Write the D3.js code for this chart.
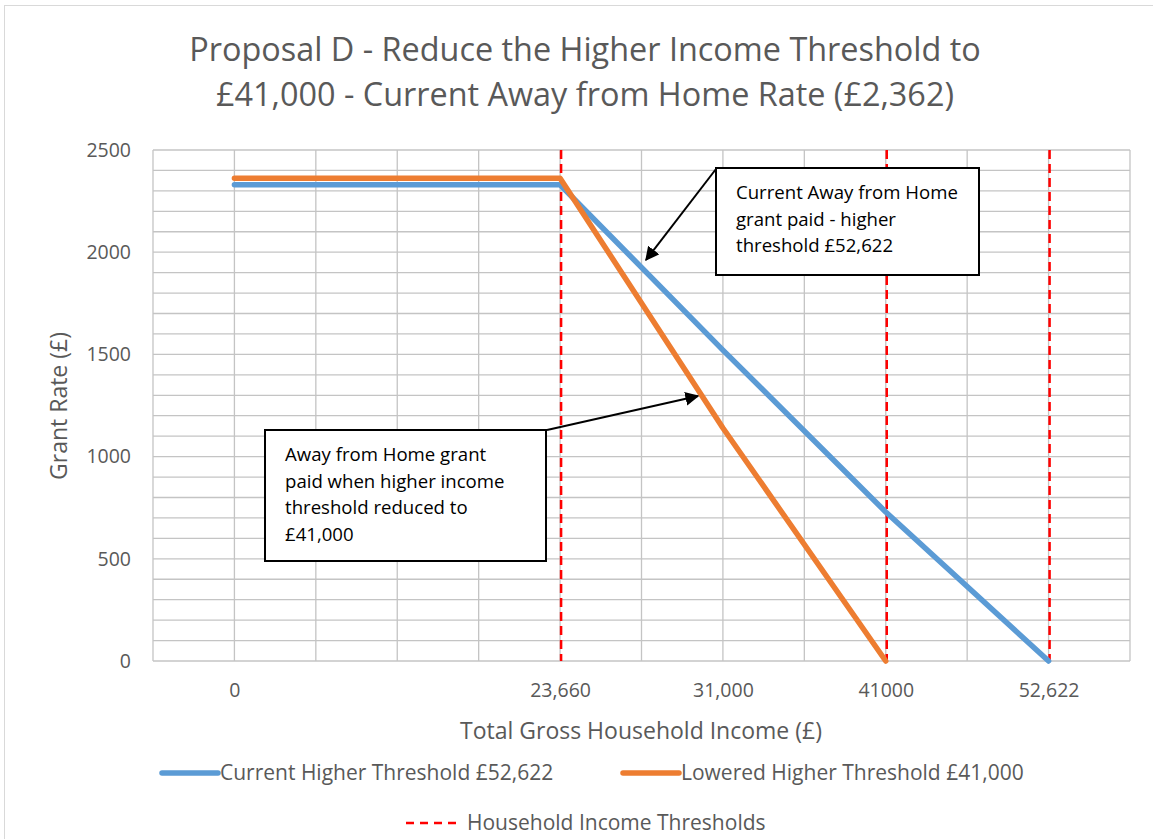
<!DOCTYPE html>
<html lang="en">
<head>
<meta charset="utf-8">
<title>Proposal D - Grant Rate chart</title>
<script src="https://cdn.jsdelivr.net/npm/d3@7"></script>
<style>
  body { margin: 0; background: #fff; }
  text { font-family: "Open Sans", "Noto Sans", sans-serif; }
</style>
</head>
<body>
<div id="chart"></div>
<script>
// category axis (Excel line chart) - the blank slot sits between 0 and 23,660
var categories = ["0", "", "23,660", "31,000", "41000", "52,622"];
var currentRate = [2330, 2330, 2330, 1521, 729, 0];       // higher threshold £52,622
var loweredRate = [2362, 2362, 2362, 1140, 0, null];      // higher threshold £41,000
var thresholds = ["23,660", "41000", "52,622"];
var yTicks = [0, 500, 1000, 1500, 2000, 2500];

var W = 1153, H = 839;
var plot = {left: 153, right: 1130, top: 150, bottom: 661};

var svg = d3.select("#chart").append("svg")
    .attr("width", W).attr("height", H);

// chart frame
svg.append("rect")
    .attr("x", 4.5).attr("y", 5.5)
    .attr("width", W + 10).attr("height", H + 10)
    .attr("fill", "none").attr("stroke", "#d9d9d9");

var x = d3.scalePoint()
    .domain(categories)
    .range([plot.left, plot.right])
    .padding(0.5);

var y = d3.scaleLinear()
    .domain([0, 2500])
    .range([plot.bottom, plot.top]);

// gridlines: horizontal every 100, vertical every half category
var grid = svg.append("g").attr("stroke", "#c4c4c4").attr("stroke-width", 1.3);
grid.selectAll("line.h")
    .data(d3.range(0, 2501, 100))
    .enter().append("line")
    .attr("x1", plot.left).attr("x2", plot.right)
    .attr("y1", function(d) { return y(d); })
    .attr("y2", function(d) { return y(d); });

var half = x.step() / 2;
grid.selectAll("line.v")
    .data(d3.range(0, categories.length * 2 + 1))
    .enter().append("line")
    .attr("x1", function(i) { return plot.left + i * half; })
    .attr("x2", function(i) { return plot.left + i * half; })
    .attr("y1", plot.top).attr("y2", plot.bottom);

// y axis labels
var yAxis = svg.append("g")
    .attr("transform", "translate(" + (plot.left - 22) + ",0)")
    .call(d3.axisLeft(y).tickValues(yTicks).tickFormat(d3.format("d"))
        .tickSize(0).tickPadding(0));
yAxis.select(".domain").remove();
yAxis.selectAll("text")
    .attr("font-size", 19.5).attr("fill", "#595959")
    .attr("font-family", "Open Sans");

// x axis labels
var xAxis = svg.append("g")
    .attr("transform", "translate(0," + (plot.bottom + 22) + ")")
    .call(d3.axisBottom(x).tickSize(0).tickPadding(0));
xAxis.select(".domain").remove();
xAxis.selectAll("text")
    .attr("font-size", 19.5).attr("fill", "#595959")
    .attr("font-family", "Open Sans");

// axis titles
svg.append("text")
    .attr("x", 641).attr("y", 739)
    .attr("text-anchor", "middle")
    .attr("font-size", 23).attr("fill", "#595959")
    .text("Total Gross Household Income (£)");

svg.append("text")
    .attr("transform", "translate(67,406) rotate(-90)")
    .attr("text-anchor", "middle")
    .attr("font-size", 23).attr("fill", "#595959")
    .text("Grant Rate (£)");

// title
var title = svg.append("text")
    .attr("text-anchor", "middle")
    .attr("font-size", 32.4).attr("fill", "#595959");
title.append("tspan").attr("x", 585).attr("y", 61)
    .text("Proposal D - Reduce the Higher Income Threshold to");
title.append("tspan").attr("x", 585).attr("y", 106)
    .text("£41,000 - Current Away from Home Rate (£2,362)");

// household income threshold lines
svg.selectAll("line.thr")
    .data(thresholds)
    .enter().append("line")
    .attr("x1", function(d) { return x(d) + 1; })
    .attr("x2", function(d) { return x(d) + 1; })
    .attr("y1", plot.top).attr("y2", plot.bottom)
    .attr("stroke", "#ff0000").attr("stroke-width", 2.5)
    .attr("stroke-dasharray", "9,5");

var line = d3.line()
    .defined(function(d) { return d.v != null; })
    .x(function(d) { return x(d.c); })
    .y(function(d) { return y(d.v); });

function series(vals) {
    return categories.map(function(c, i) { return {c: c, v: vals[i]}; });
}

svg.append("path")
    .datum(series(currentRate))
    .attr("d", line)
    .attr("fill", "none").attr("stroke", "#5b9bd5")
    .attr("stroke-width", 5.5).attr("stroke-linecap", "round")
    .attr("stroke-linejoin", "round");

svg.append("path")
    .datum(series(loweredRate))
    .attr("d", line)
    .attr("fill", "none").attr("stroke", "#ed7d31")
    .attr("stroke-width", 5.5).attr("stroke-linecap", "round")
    .attr("stroke-linejoin", "round");

// annotations
svg.append("defs").append("marker")
    .attr("id", "arrow")
    .attr("viewBox", "0 0 10 10")
    .attr("refX", 9).attr("refY", 5)
    .attr("markerWidth", 7).attr("markerHeight", 7)
    .attr("markerUnits", "strokeWidth")
    .attr("orient", "auto")
    .append("path").attr("d", "M0,0 L10,5 L0,10 Z").attr("fill", "#000");

function callout(bx, by, bw, bh, lines, from, to) {
    svg.append("rect")
        .attr("x", bx).attr("y", by).attr("width", bw).attr("height", bh)
        .attr("fill", "#fff").attr("stroke", "#000").attr("stroke-width", 2);
    var t = svg.append("text").attr("font-size", 18.6).attr("fill", "#000");
    lines.forEach(function(s, i) {
        t.append("tspan").attr("x", bx + 20).attr("y", by + 31 + i * 26.5).text(s);
    });
    svg.append("line")
        .attr("x1", from[0]).attr("y1", from[1])
        .attr("x2", to[0]).attr("y2", to[1])
        .attr("stroke", "#000").attr("stroke-width", 2)
        .attr("marker-end", "url(#arrow)");
}

callout(716, 168, 263, 107,
    ["Current Away from Home", "grant paid - higher", "threshold £52,622"],
    [716, 169], [646, 260]);

callout(265, 430, 281, 131,
    ["Away from Home grant", "paid when higher income", "threshold reduced to", "£41,000"],
    [547, 430], [698, 396]);

// legend
var legend = [
    {name: "Current Higher Threshold £52,622", color: "#5b9bd5", x: 162, y: 773, dash: null},
    {name: "Lowered Higher Threshold £41,000", color: "#ed7d31", x: 623, y: 773, dash: null},
    {name: "Household Income Thresholds", color: "#ff0000", x: 406, y: 823, dash: "8,6"}
];
var lg = svg.selectAll("g.legend")
    .data(legend)
    .enter().append("g")
    .attr("transform", function(d) { return "translate(" + d.x + "," + d.y + ")"; });
lg.append("line")
    .attr("x1", 0).attr("x2", function(d) { return d.dash ? 54 : 56; })
    .attr("stroke", function(d) { return d.color; })
    .attr("stroke-width", function(d) { return d.dash ? 2.5 : 5.5; })
    .attr("stroke-linecap", function(d) { return d.dash ? "butt" : "round"; })
    .attr("stroke-dasharray", function(d) { return d.dash; });
lg.append("text")
    .attr("x", function(d) { return d.dash ? 61 : 58; })
    .attr("dy", "0.35em")
    .attr("font-size", 21).attr("fill", "#595959")
    .text(function(d) { return d.name; });
</script>
</body>
</html>
